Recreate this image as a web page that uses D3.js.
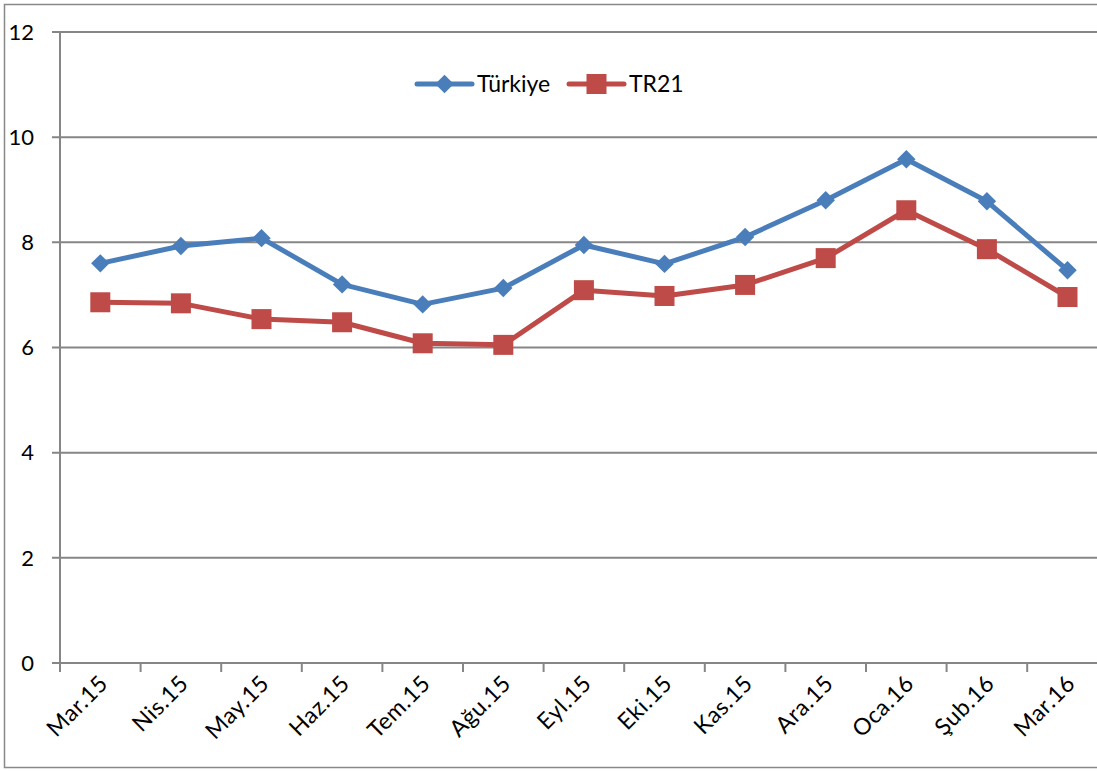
<!DOCTYPE html>
<html>
<head>
<meta charset="utf-8">
<script src="https://cdn.jsdelivr.net/npm/d3@7"></script>
<style>
  body { margin: 0; background: #fff; }
  text { font-family: Lato, "Open Sans", sans-serif; fill: #000; }
</style>
</head>
<body>
<svg></svg>
<script>
const categories = ['Mar.15', 'Nis.15', 'May.15', 'Haz.15', 'Tem.15', 'Ağu.15', 'Eyl.15',
  'Eki.15', 'Kas.15', 'Ara.15', 'Oca.16', 'Şub.16', 'Mar.16'];
const turkiye = [7.60, 7.93, 8.08, 7.20, 6.82, 7.13, 7.95, 7.59, 8.10, 8.80, 9.58, 8.78, 7.47];
const tr21 = [6.86, 6.84, 6.54, 6.48, 6.08, 6.05, 7.09, 6.98, 7.19, 7.70, 8.61, 7.87, 6.96];
const yTicks = [0, 2, 4, 6, 8, 10, 12];

const width = 1097, height = 771;
const plotLeft = 60, plotTop = 32, plotBottom = 663, step = 80.6;

const svg = d3.select('svg')
    .attr('width', width)
    .attr('height', height);

// outer chart border (right side falls outside the picture)
svg.append('rect')
    .attr('x', 4.5).attr('y', 4.5)
    .attr('width', width + 20).attr('height', 763)
    .attr('fill', 'none')
    .attr('stroke', '#898989')
    .attr('stroke-width', 1.5);

const x = d3.scaleBand()
    .domain(categories)
    .range([plotLeft, plotLeft + step * categories.length]);

const y = d3.scaleLinear()
    .domain([0, 12])
    .range([plotBottom, plotTop]);

// horizontal gridlines
svg.append('g')
  .selectAll('line')
  .data(yTicks)
  .enter().append('line')
    .attr('x1', plotLeft - 8)
    .attr('x2', width)
    .attr('y1', d => y(d))
    .attr('y2', d => y(d))
    .attr('stroke', '#868686')
    .attr('stroke-width', 2);

// y axis line
svg.append('line')
    .attr('x1', plotLeft).attr('x2', plotLeft)
    .attr('y1', plotTop).attr('y2', plotBottom)
    .attr('stroke', '#868686')
    .attr('stroke-width', 2);

// y labels
svg.append('g')
  .selectAll('text')
  .data(yTicks)
  .enter().append('text')
    .attr('x', 34)
    .attr('y', d => y(d))
    .attr('dy', '0.35em')
    .attr('text-anchor', 'end')
    .style('font-size', '22px')
    .text(d => d);

// category tick marks
svg.append('g')
  .selectAll('line')
  .data(d3.range(categories.length + 1))
  .enter().append('line')
    .attr('x1', i => plotLeft + i * step)
    .attr('x2', i => plotLeft + i * step)
    .attr('y1', plotBottom)
    .attr('y2', plotBottom + 9)
    .attr('stroke', '#868686')
    .attr('stroke-width', 2);

// category labels
svg.append('g')
  .selectAll('text')
  .data(categories)
  .enter().append('text')
    .attr('text-anchor', 'end')
    .attr('transform', d => `translate(${x(d) + x.bandwidth() / 2 + 9},${plotBottom + 22}) rotate(-45)`)
    .style('font-size', '23px')
    .style('letter-spacing', '0.5px')
    .text(d => d);

const cx = d => x(d) + x.bandwidth() / 2;

const line = d3.line()
    .x((d, i) => cx(categories[i]))
    .y(d => y(d));

const blue = '#4a7ebb', red = '#be4b48';

svg.append('path')
    .datum(turkiye)
    .attr('d', line)
    .attr('fill', 'none')
    .attr('stroke', blue)
    .attr('stroke-width', 5)
    .attr('stroke-linejoin', 'round');

svg.append('path')
    .datum(tr21)
    .attr('d', line)
    .attr('fill', 'none')
    .attr('stroke', red)
    .attr('stroke-width', 5)
    .attr('stroke-linejoin', 'round');

const diamond = d3.symbol().type(d3.symbolSquare).size(170);

svg.append('g')
  .selectAll('path')
  .data(turkiye)
  .enter().append('path')
    .attr('d', diamond)
    .attr('transform', (d, i) => `translate(${cx(categories[i])},${y(d)}) rotate(45)`)
    .attr('fill', blue);

svg.append('g')
  .selectAll('rect')
  .data(tr21)
  .enter().append('rect')
    .attr('x', (d, i) => cx(categories[i]) - 10)
    .attr('y', d => y(d) - 10)
    .attr('width', 20)
    .attr('height', 20)
    .attr('fill', red);

// legend
const legend = svg.append('g');
const items = [
  { name: 'Türkiye', color: blue, x0: 417, type: 'diamond' },
  { name: 'TR21', color: red, x0: 569, type: 'square' }
];
items.forEach(it => {
  const g = legend.append('g').attr('transform', `translate(${it.x0},84)`);
  g.append('line')
      .attr('x1', 0).attr('x2', 55)
      .attr('stroke', it.color)
      .attr('stroke-width', 5)
      .attr('stroke-linecap', 'round');
  if (it.type === 'diamond') {
    g.append('path')
        .attr('d', diamond)
        .attr('transform', 'translate(27.5,0) rotate(45)')
        .attr('fill', it.color);
  } else {
    g.append('rect')
        .attr('x', 17.5).attr('y', -10)
        .attr('width', 20).attr('height', 20)
        .attr('fill', it.color);
  }
  g.append('text')
      .attr('x', 60)
      .attr('dy', '0.35em')
      .style('font-size', '23px')
      .text(it.name);
});
</script>
</body>
</html>
